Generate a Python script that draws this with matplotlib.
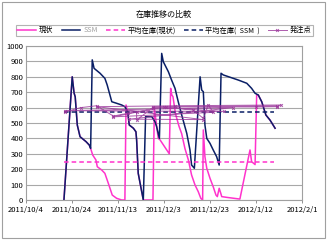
import pandas as pd
import matplotlib
matplotlib.use("Agg")
import matplotlib.pyplot as plt
from matplotlib.patches import Rectangle

plt.rcParams['font.family'] = ['Noto Sans CJK JP', 'DejaVu Sans']

# 基準日からの経過日数と在庫量
base = pd.Timestamp("2011-10-04")

ssm_days = [16.5, 20.1, 20.9, 21.4, 22.3, 23.5, 26.1, 27.5, 28.1, 28.8, 29.6, 32.2, 34.3,
            35.3, 37.3, 39.4, 41.6, 43.0, 44.2, 44.9, 46.7, 47.8, 48.1, 48.8, 51.0, 52.0,
            54.7, 56.1, 56.8, 58.0, 59.0, 59.7, 61.9, 63.3, 64.8, 66.2, 67.7, 69.9, 71.3,
            72.0, 73.2, 75.7, 76.4, 77.1, 77.8, 78.6, 80.0, 81.4, 82.9, 84.0, 84.8, 85.8,
            92.3, 96.0, 98.1, 99.6, 101.0, 102.5, 104.3, 106.1, 108.3]
ssm_vals = [0, 800, 695, 670, 487, 411, 379, 357, 335, 910, 855, 823, 790,
            747, 638, 628, 617, 606, 573, 487, 466, 443, 390, 173, 0, 541,
            541, 508, 476, 400, 952, 898, 833, 779, 725, 638, 552, 433, 325,
            227, 206, 800, 714, 703, 487, 400, 368, 325, 281, 227, 823, 812,
            779, 758, 725, 693, 682, 638, 552, 519, 466]

cur_days = [16.5, 20.1, 20.9, 21.4, 22.3, 23.5, 26.1, 27.5, 28.1, 29.0, 30.4, 31.0, 32.9,
            34.3, 35.8, 37.5, 39.4, 41.6, 43.0, 43.5, 44.2, 44.9, 46.7, 47.8, 48.1, 48.8,
            51.0, 55.2, 55.8, 57.5, 58.3, 62.3, 62.9, 63.4, 63.9, 65.0, 66.5, 67.7, 69.1,
            70.6, 72.0, 73.5, 74.9, 76.0, 76.8, 77.1, 77.8, 78.6, 80.0, 81.4, 82.6, 83.2,
            84.0, 84.7, 85.1, 87.3, 93.0, 97.4, 98.1, 99.6, 100.3, 101.0, 102.5, 104.3,
            106.1, 108.3]
cur_vals = [0, 800, 695, 670, 487, 411, 379, 357, 335, 292, 260, 216, 195,
            173, 108, 32, 11, 0, 0, 617, 573, 487, 466, 443, 390, 173,
            0, 0, 597, 400, 390, 300, 725, 682, 671, 560, 480, 430, 335,
            260, 162, 97, 54, 11, 0, 455, 281, 206, 141, 86, 32, 22,
            76, 43, 22, 17, 6, 325, 249, 230, 682, 682, 638, 552,
            519, 466]

avg_days = [16.5, 107.8]
avg_cur = 249
avg_ssm = 569

op_days = [17.0, 23.9, 30.7, 38.0, 44.2, 48.1, 48.1, 55.1, 60.9, 72.7, 77.1, 79.3,
           81.4, 38.0, 60.0, 100.0, 109.0, 111.0, 65.0, 30.7, 77.0, 45.0, 90.0, 17.0,
           86.0, 55.1, 109.0]
op_vals = [573, 600, 612, 545, 563, 573, 519, 600, 606, 584, 530, 617,
           569, 540, 606, 604, 606, 617, 612, 606, 522, 525, 600, 580,
           575, 604, 610]

xticks = ["2011-10-04", "2011-10-24", "2011-11-13", "2011-12-03",
          "2011-12-23", "2012-01-12", "2012-02-01"]

def to_dates(days):
    return base + pd.to_timedelta(days, unit="D")

pink = "#FF33CC"
navy = "#0A1F66"
purple = "#993399"

fig = plt.figure(figsize=(3.27, 2.40), dpi=100)
fig.patches.append(Rectangle((0.006, 0.008), 0.988, 0.985, transform=fig.transFigure,
                             fill=False, edgecolor="#A0A0A0", linewidth=0.8))
ax = fig.add_axes([0.0795, 0.1667, 0.844, 0.6416])

ax.plot(to_dates(cur_days), cur_vals, color=pink, linewidth=1.1, label="現状")
ax.plot(to_dates(ssm_days), ssm_vals, color=navy, linewidth=1.1, label="SSM")
ax.plot(to_dates(avg_days), [avg_cur, avg_cur], color=pink, linewidth=1.1,
        linestyle=(0, (3, 2)), label="平均在庫(現状)")
ax.plot(to_dates(avg_days), [avg_ssm, avg_ssm], color=navy, linewidth=1.1,
        linestyle=(0, (3, 2)), label="平均在庫(  SSM  )")
ax.plot(to_dates(op_days), op_vals, color=purple, linewidth=0.7, alpha=0.8,
        marker="x", markersize=2, markeredgewidth=0.7, label="発注点")

ax.set_ylim(0, 1000)
ax.set_yticks(range(0, 1001, 100))
ax.set_xlim(pd.Timestamp(xticks[0]), pd.Timestamp(xticks[-1]))
ax.set_xticks(pd.to_datetime(xticks))
ax.set_xticklabels([f"{d.year}/{d.month}/{d.day}" for d in pd.to_datetime(xticks)])
ax.grid(axis="y", color="#A8A8A8", linewidth=0.8)
ax.set_axisbelow(True)
for s in ax.spines.values():
    s.set_color("#A0A0A0")
    s.set_linewidth(0.8)
ax.tick_params(axis="both", labelsize=5.5, length=2, width=0.6, color="#808080", pad=2)
ax.tick_params(axis="y", length=0)

fig.text(0.5, 0.94, "在庫推移の比較", ha="center", va="center", fontsize=5.8)

leg = fig.legend(loc="center", ncol=5, mode="expand",
                 bbox_to_anchor=(0.038, 0.85, 0.93, 0.047), fontsize=5.2,
                 frameon=True, fancybox=False, edgecolor="#A0A0A0",
                 handlelength=2.6, handletextpad=0.4, columnspacing=0.6,
                 borderpad=0.2)
leg.get_frame().set_linewidth(0.8)
leg.get_texts()[1].set_color("#A0A0A0")

fig.savefig("out.png", dpi=100)
